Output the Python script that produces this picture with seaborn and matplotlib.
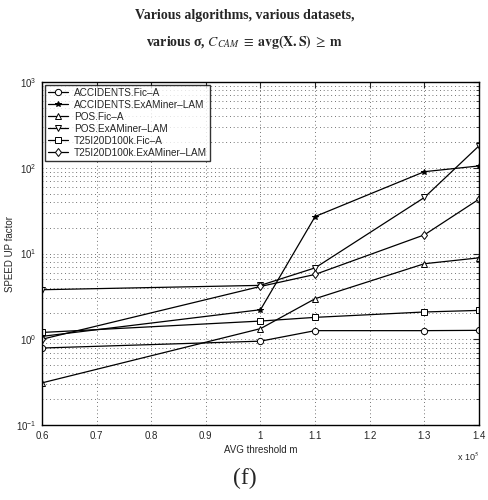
import numpy as np
import pandas as pd
import seaborn as sns
import matplotlib
matplotlib.use("Agg")
import matplotlib.pyplot as plt
from matplotlib.ticker import LogLocator, NullFormatter

# AVG threshold m (x 10^5)
m_values = [0.6, 1.0, 1.1, 1.3, 1.4]

acc_fic = [0.79, 0.95, 1.26, 1.26, 1.27]
acc_exa = [1.08, 2.21, 27, 90, 105]
pos_fic = [0.31, 1.33, 2.97, 7.6, 8.9]
pos_exa = [3.78, 4.25, 6.8, 45, 180]
t25_fic = [1.2, 1.63, 1.80, 2.08, 2.17]
t25_exa = [1.0, 4.13, 5.7, 16.5, 43]

series_names = ["ACCIDENTS.Fic\u2013A", "ACCIDENTS.ExAMiner\u2013LAM", "POS.Fic\u2013A",
                "POS.ExAMiner\u2013LAM", "T25I20D100k.Fic\u2013A", "T25I20D100k.ExAMiner\u2013LAM"]
series_vals = [acc_fic, acc_exa, pos_fic, pos_exa, t25_fic, t25_exa]
markers = ["o", "*", "^", "v", "s", "d"]

sns.set_style("white")
plt.rcParams["font.family"] = ["Liberation Sans", "DejaVu Sans"]
plt.rcParams["mathtext.fontset"] = "stix"

fig = plt.figure(figsize=(4.89, 5.0), dpi=100)
ax = fig.add_axes([42 / 489, 75 / 500, 437 / 489, 343 / 500])

for name, vals, mk in zip(series_names, series_vals, markers):
    df = pd.DataFrame({"m": m_values, "speedup": vals})
    filled = mk == "*"
    sns.lineplot(data=df, x="m", y="speedup", ax=ax, color="black", lw=0.9,
                 marker=mk, markersize=4.5 if not filled else 4.0,
                 markerfacecolor="black" if filled else "white",
                 markeredgecolor="black", markeredgewidth=0.7, label=name)

ax.set_yscale("log")
ax.set_ylim(0.1, 1000)
ax.set_xlim(0.6, 1.4)
ax.set_xticks(np.arange(0.6, 1.41, 0.1))
ax.set_xticklabels(["0.6", "0.7", "0.8", "0.9", "1", "1.1", "1.2", "1.3", "1.4"])
ax.yaxis.set_major_locator(LogLocator(base=10, numticks=10))
ax.yaxis.set_minor_locator(LogLocator(base=10, subs=np.arange(2, 10), numticks=20))
ax.yaxis.set_minor_formatter(NullFormatter())

ax.grid(True, which="major", axis="both", color="#444444", linestyle=(0, (1, 3.5)), lw=0.6)
ax.grid(True, which="minor", axis="y", color="#444444", linestyle=(0, (1, 3.5)), lw=0.6)
ax.tick_params(which="both", direction="in", top=True, right=True, labelsize=7, pad=4)
ax.tick_params(which="major", length=4)
ax.tick_params(which="minor", length=2)
for s in ax.spines.values():
    s.set_linewidth(1.0)
    s.set_color("black")

ax.set_xlabel("AVG threshold m", fontsize=7, labelpad=3)
ax.set_ylabel("SPEED UP factor", fontsize=7, labelpad=1)
ax.text(1.0, -0.075, "x 10$^5$", transform=ax.transAxes, fontsize=6.5, ha="right", va="top",
        family="Liberation Sans")

leg = ax.legend(loc="upper left", fontsize=7.2, frameon=True, fancybox=False,
                edgecolor="black", handlelength=2.0, borderpad=0.3, labelspacing=0.2,
                borderaxespad=0.3, handletextpad=0.6)
leg.get_frame().set_linewidth(1.0)

fig.text(0.5, 1 - 15 / 500, "Various algorithms, various datasets,", ha="center", va="center",
         fontsize=10, fontweight="bold", family="Liberation Serif")
fig.text(0.5, 1 - 42 / 500,
         r"various σ, $\mathit{C}_{CAM}\;\equiv\;\mathbf{avg(X.S)}\;\geq\;\mathbf{m}$",
         ha="center", va="center", fontsize=10, fontweight="bold", family="Liberation Serif")
fig.text(0.5, 1 - 478 / 500, "(f)", ha="center", va="center", fontsize=17,
         family="Liberation Serif")

fig.savefig("out.png", dpi=100)
